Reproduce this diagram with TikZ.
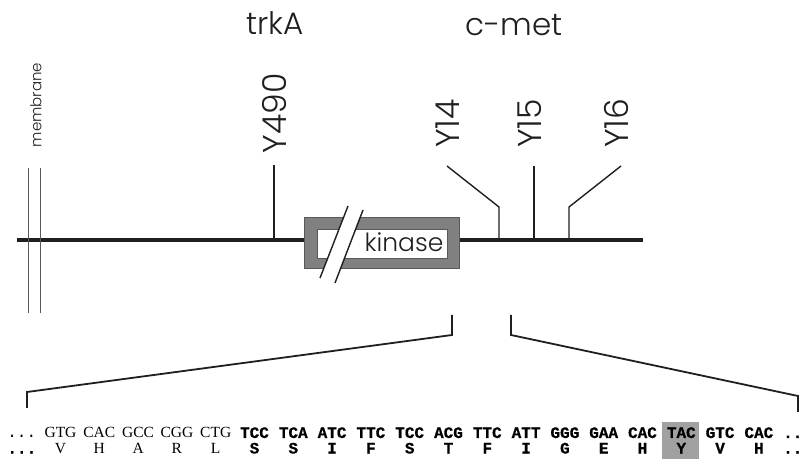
\documentclass[tikz,border=0pt]{standalone}
\usepackage{fontspec}
\setmainfont{Liberation Serif}
\newfontfamily\geofont{Poppins Light}
\newfontfamily\seqmono{Liberation Mono}
\newfontfamily\seqbold[FakeBold=0.6]{Liberation Mono Bold}
\newfontfamily\seqserif{Liberation Serif}

\definecolor{framegray}{gray}{0.50}
\definecolor{boxgray}{gray}{0.63}
\definecolor{ink}{gray}{0.12}

\tikzset{
  lbl/.style={font=\geofont\fontsize{31}{31}\selectfont, inner sep=0pt, text=ink},
  ylbl/.style={font=\geofont\fontsize{33}{33}\selectfont, inner sep=0pt, rotate=90, text=ink},
  tick/.style={line width=1.4pt, draw=ink},
  memline/.style={line width=0.8pt, draw=black!65},
  backbone/.style={line width=4pt, draw=ink},
  bracket/.style={line width=1.8pt, draw=ink, line join=miter},
  seqB/.style={font=\seqbold\fontsize{16}{16}\selectfont, inner sep=0pt, anchor=base},
  seqR/.style={font=\seqserif\fontsize{15.5}{15.5}\selectfont, inner sep=0pt, anchor=base},
  seqdots/.style={font=\seqmono\fontsize{16}{16}\selectfont, inner sep=0pt, anchor=base west},
}

\begin{document}
\begin{tikzpicture}[x=1pt, y=-1pt]
\useasboundingbox (0,0) rectangle (804,462);

% --- receptor backbone and membrane ---
\coordinate (mL) at (17,240);
\coordinate (mR) at (643,240);
\draw[backbone] (mL) -- (mR);

\coordinate (m1t) at (28,168); \coordinate (m1b) at (28,313);
\coordinate (m2t) at (40,168); \coordinate (m2b) at (40,313);
\draw[memline] (m1t) -- (m1b);
\draw[memline] (m2t) -- (m2b);
\node[rotate=90, inner sep=0pt, text=ink, font=\geofont\fontsize{15}{15}\selectfont] (mem) at (36,105) {membrane};

% --- kinase domain with a break ---
\path[fill=framegray, draw=black!65, line width=0.6pt] (304,217) rectangle (459,268);
\path[fill=white, draw=black!65, line width=0.6pt] (317,229) rectangle (447,258);
\coordinate (s1b) at (320,278); \coordinate (s1t) at (348,206);
\coordinate (s2b) at (335,283); \coordinate (s2t) at (363,210);
\fill[white] (s1b) -- (s1t) -- (s2t) -- (s2b) -- cycle;
\draw[tick] (s1b) -- (s1t);
\draw[tick] (s2b) -- (s2t);
\node[font=\geofont\fontsize{25}{25}\selectfont, inner sep=0pt, anchor=base, text=ink] (kin) at (404,252) {kinase};

% --- receptor names ---
\node[lbl, anchor=base] (trk) at (275,35) {trkA};
\node[lbl, anchor=base] (cmet) at (514,36) {c-met};

% --- tyrosine sites ---
\node[ylbl] (y490) at (275,113.5) {Y490};
\node[ylbl] (y14) at (448,123.5) {Y14};
\node[ylbl] (y15) at (530,123.5) {Y15};
\node[ylbl] (y16) at (616,123.5) {Y16};

\coordinate (t490) at (274,165); \coordinate (f490) at (274,240);
\draw[tick] (t490) -- (f490);
\coordinate (t14) at (447,166); \coordinate (k14) at (499,207); \coordinate (f14) at (499,240);
\draw[tick, line join=miter] (t14) -- (k14) -- (f14);
\coordinate (t15) at (534,166); \coordinate (f15) at (534,240);
\draw[tick] (t15) -- (f15);
\coordinate (t16) at (621,166); \coordinate (k16) at (569,207); \coordinate (f16) at (569,240);
\draw[tick, line join=miter] (t16) -- (k16) -- (f16);

% --- expansion bracket ---
\coordinate (bl1) at (452,315); \coordinate (bl2) at (452,335);
\coordinate (bl3) at (27,392);  \coordinate (bl4) at (27,408);
\coordinate (br1) at (511,315); \coordinate (br2) at (511,335);
\coordinate (br3) at (798,396); \coordinate (br4) at (798,412);
\draw[bracket] (bl1) -- (bl2) -- (bl3) -- (bl4);
\draw[bracket] (br1) -- (br2) -- (br3) -- (br4);

% --- sequence ---
\fill[boxgray] (662,422) rectangle (699,459);

\node[seqdots] (dl1) at (7.2,438) {...};
\node[seqdots, font=\seqbold\fontsize{16}{16}\selectfont] (dl2) at (7.2,453.5) {...};

\foreach \cod/\aa [count=\i from 0] in {GTG/V,CAC/H,GCC/A,CGG/R,CTG/L}{
  \node[seqR] (cod\i) at (60.5+38.8*\i,438) {\cod};
  \node[seqR] (aa\i) at (60.5+38.8*\i,453.5) {\aa};
}
\foreach \cod/\aa [count=\i from 5] in {TCC/S,TCA/S,ATC/I,TTC/F,TCC/S,ACG/T,TTC/F,ATT/I,GGG/G,GAA/E,CAC/H,TAC/Y,GTC/V,CAC/H}{
  \node[seqB] (cod\i) at (60.5+38.8*\i,438) {\cod};
  \node[seqB] (aa\i) at (60.5+38.8*\i,453.5) {\aa};
}

\node[seqdots, font=\seqbold\fontsize{16}{16}\selectfont] (dr1) at (783,438) {..};
\node[seqdots, font=\seqbold\fontsize{16}{16}\selectfont] (dr2) at (783,453.5) {..};
\end{tikzpicture}
\end{document}
